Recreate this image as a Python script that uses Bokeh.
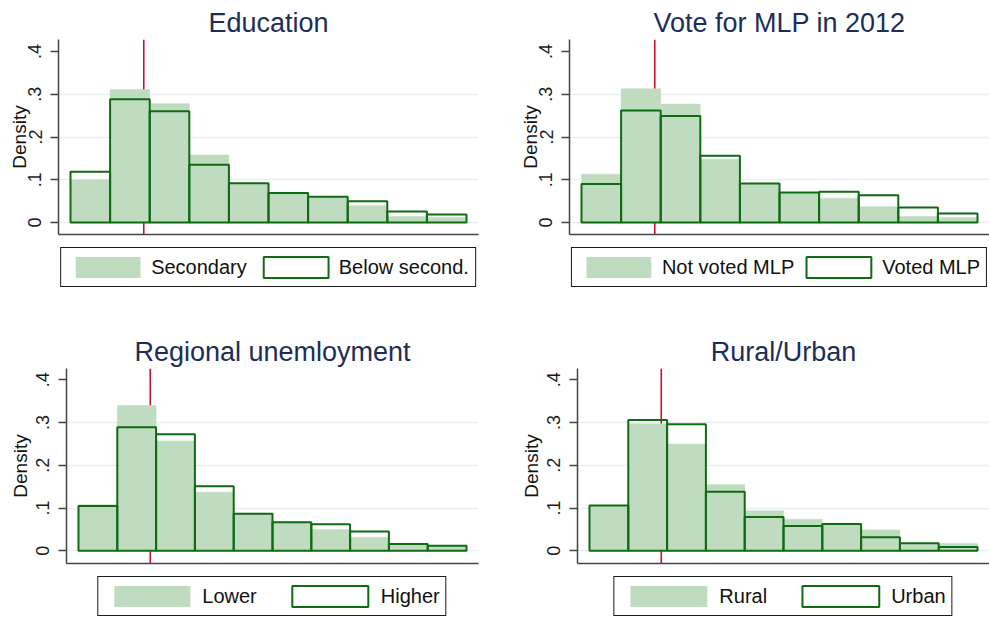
from bokeh.plotting import figure
from bokeh.layouts import column, row
from bokeh.models import FixedTicker, Span, Legend, LegendItem, ColumnDataSource, Range1d
from bokeh.embed import file_html
from bokeh.resources import INLINE

# ---------------- data ----------------
bin_edges = [0, 1, 2, 3, 4, 5, 6, 7, 8, 9, 10]   # histogram bins (x axis unlabeled)
ref_line_x = 1.85                                # vertical reference line

y_ticks = [0, 0.1, 0.2, 0.3, 0.4]
y_tick_labels = ["0", ".1", ".2", ".3", ".4"]
grid_ticks = [0, 0.1, 0.2, 0.3]

titles = ["Education", "Vote for MLP in 2012", "Regional unemloyment", "Rural/Urban"]
group_a_labels = ["Secondary", "Not voted MLP", "Lower", "Rural"]
group_b_labels = ["Below second.", "Voted MLP", "Higher", "Urban"]

edu_secondary = [0.100, 0.311, 0.278, 0.158, 0.090, 0.068, 0.060, 0.040, 0.014, 0.012]
edu_below = [0.119, 0.288, 0.260, 0.135, 0.092, 0.069, 0.060, 0.050, 0.026, 0.019]

vote_not = [0.113, 0.313, 0.277, 0.148, 0.090, 0.070, 0.057, 0.037, 0.014, 0.012]
vote_yes = [0.090, 0.262, 0.249, 0.156, 0.091, 0.070, 0.072, 0.064, 0.035, 0.021]

unemp_lower = [0.108, 0.340, 0.257, 0.137, 0.087, 0.067, 0.050, 0.032, 0.016, 0.012]
unemp_higher = [0.105, 0.289, 0.273, 0.151, 0.087, 0.067, 0.062, 0.045, 0.016, 0.012]

rural = [0.105, 0.297, 0.250, 0.155, 0.094, 0.074, 0.061, 0.049, 0.017, 0.017]
urban = [0.106, 0.306, 0.296, 0.138, 0.079, 0.058, 0.063, 0.032, 0.018, 0.009]

# ---------------- style ----------------
FONT = "Liberation Sans"
FILL = "#c0dcc0"
DKGREEN = "#0f6b12"
RED = "#c8102e"
GRID = "#e8eef2"
AXIS = "#444444"
TITLE_COLOR = "#1c2d5a"

cfgs = [
    dict(w=494, h=242, lh=58, xr=(-0.303, 10.303), yr=(-0.028, 0.428), bl=58, br=16, bt=39,
         als=-4, gw=81, gh=26, so=3, sp=8),
    dict(w=495, h=242, lh=58, xr=(-0.303, 10.303), yr=(-0.028, 0.428), bl=75, br=0, bt=39,
         als=-4, gw=81, gh=26, so=3, sp=4),
    dict(w=494, h=271, lh=47, xr=(-0.309, 10.309), yr=(-0.0296, 0.4265), bl=66, br=16, bt=68,
         als=3, gw=95, gh=26, so=3, sp=26),
    dict(w=495, h=271, lh=47, xr=(-0.309, 10.309), yr=(-0.0296, 0.4265), bl=83, br=0, bt=68,
         als=3, gw=96, gh=26, so=3, sp=25),
]


def make_panel(title, a_vals, b_vals, a_label, b_label, c):
    p = figure(width=c["w"], height=c["h"], x_range=c["xr"], y_range=c["yr"],
               output_backend="svg", toolbar_location=None,
               min_border_left=c["bl"], min_border_right=c["br"],
               min_border_top=c["bt"], min_border_bottom=8)
    p.outline_line_color = None
    p.background_fill_color = "white"
    p.border_fill_color = "white"
    p.xgrid.visible = False
    p.ygrid.ticker = FixedTicker(ticks=grid_ticks)
    p.ygrid.grid_line_color = GRID
    p.ygrid.grid_line_width = 1.5

    p.title.text = title
    p.title.align = "center"
    p.title.text_font = FONT
    p.title.text_font_size = "27px"
    p.title.text_font_style = "normal"
    p.title.text_color = TITLE_COLOR
    p.title.standoff = 4

    p.add_layout(Span(location=ref_line_x, dimension="height", line_color=RED,
                      line_width=1.6, level="underlay"))

    src = ColumnDataSource(dict(left=bin_edges[:-1], right=bin_edges[1:], a=a_vals, b=b_vals))
    p.quad(left="left", right="right", bottom=0, top="a", source=src,
           fill_color=FILL, line_color=FILL, line_width=0.5)
    p.quad(left="left", right="right", bottom=0, top="b", source=src,
           fill_color=None, line_color=DKGREEN, line_width=2)

    yax = p.yaxis[0]
    yax.ticker = FixedTicker(ticks=y_ticks)
    yax.major_label_overrides = dict(zip(y_ticks, y_tick_labels))
    yax.major_label_orientation = "vertical"
    yax.major_label_text_font = FONT
    yax.major_label_text_font_size = "18px"
    yax.major_label_text_color = "#1a1a1a"
    yax.major_label_standoff = 9
    yax.major_tick_out = 8
    yax.major_tick_in = 0
    yax.minor_tick_out = 0
    yax.minor_tick_in = 0
    yax.minor_tick_line_color = None
    yax.major_tick_line_color = AXIS
    yax.major_tick_line_width = 1.3
    yax.axis_line_color = AXIS
    yax.axis_line_width = 1.5
    yax.axis_label = "Density"
    yax.axis_label_text_font = FONT
    yax.axis_label_text_font_size = "19px"
    yax.axis_label_text_font_style = "normal"
    yax.axis_label_text_color = "#111111"
    yax.axis_label_standoff = c["als"]

    xax = p.xaxis[0]
    xax.ticker = FixedTicker(ticks=[])
    xax.major_label_standoff = 0
    xax.major_tick_out = 0
    xax.major_tick_in = 0
    xax.minor_tick_out = 0
    xax.minor_tick_in = 0
    xax.minor_tick_line_color = None
    xax.major_tick_line_color = None
    xax.axis_line_color = AXIS
    xax.axis_line_width = 1.5

    # legend strip below the plot, its frame aligned with the plot frame.
    # The key renderers share the panel's data but sit outside this strip's
    # visible y range, so only their legend swatches are seen.
    lg = figure(width=c["w"], height=c["lh"], x_range=Range1d(0, 10), y_range=Range1d(10, 11),
                output_backend="svg", toolbar_location=None,
                x_axis_location=None, y_axis_location=None,
                min_border_left=c["bl"], min_border_right=c["br"],
                min_border_top=0, min_border_bottom=0)
    lg.outline_line_color = None
    lg.background_fill_color = "white"
    lg.border_fill_color = "white"
    lg.grid.visible = False
    ka = lg.quad(left="left", right="right", bottom=0, top="a", source=src,
                 fill_color=FILL, line_color=None)
    kb = lg.quad(left="left", right="right", bottom=0, top="b", source=src,
                 fill_color=None, line_color=DKGREEN, line_width=2)
    leg = Legend(items=[LegendItem(label=a_label, renderers=[ka]),
                        LegendItem(label=b_label, renderers=[kb])],
                 orientation="horizontal", location="top_center")
    leg.border_line_color = "#1a1a1a"
    leg.border_line_alpha = 1.0
    leg.border_line_width = 1.3
    leg.background_fill_color = "white"
    leg.background_fill_alpha = 1.0
    leg.padding = 6
    leg.margin = 5
    leg.spacing = c["sp"]
    leg.glyph_width = c["gw"]
    leg.glyph_height = c["gh"]
    leg.label_standoff = c["so"]
    leg.label_text_font = FONT
    leg.label_text_font_size = "20px"
    leg.label_text_color = "#111111"
    lg.add_layout(leg, "center")
    return column(p, lg, spacing=0)


series = [(edu_secondary, edu_below), (vote_not, vote_yes),
          (unemp_lower, unemp_higher), (rural, urban)]
panels = [make_panel(titles[i], series[i][0], series[i][1],
                     group_a_labels[i], group_b_labels[i], cfgs[i]) for i in range(4)]

layout = column(row(panels[0], panels[1], spacing=0), row(panels[2], panels[3], spacing=0), spacing=0)
open("out.html", "w").write(file_html(layout, INLINE))
